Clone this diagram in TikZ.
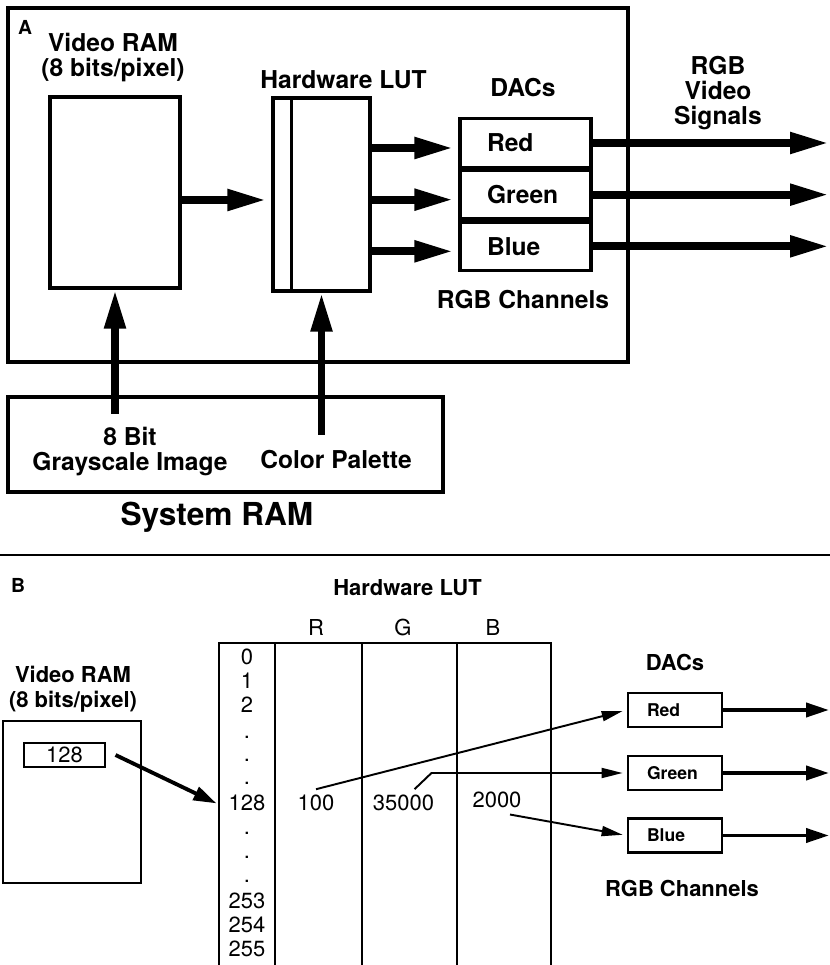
\documentclass[tikz,border=0pt]{standalone}
\usepackage{fontspec}
\setmainfont{TeX Gyre Heros}
\usepackage{tikz}
\usetikzlibrary{arrows.meta,positioning,calc}
\tikzset{
    blockbox/.style={draw, line width=1.8pt, inner sep=0pt},
    dacrow/.style={draw, line width=1.8pt, minimum width=2.62cm,
        minimum height=0.97cm, text width=1.54cm, inner xsep=0.54cm,
        align=left, font=\bfseries\fontsize{14}{14.2}\selectfont},
    dacsmall/.style={draw, line width=1.6pt, minimum width=1.88cm,
        minimum height=0.68cm, text width=1.12cm, inner xsep=0.38cm,
        align=left, font=\bfseries\fontsize{10}{12}\selectfont},
    biglabel/.style={font=\bfseries\fontsize{14}{14.2}\selectfont, align=center},
    smalllabel/.style={font=\bfseries\fontsize{12.5}{14.2}\selectfont, align=center},
    tablenum/.style={font=\fontsize{12.5}{14}\selectfont, anchor=base},
    fatarrow/.style={line width=4.5pt, -{Triangle[length=0.78cm, width=0.4cm]}},
    medarrow/.style={line width=2.2pt, -{Triangle[length=0.46cm, width=0.28cm]}},
    thinarrow/.style={line width=1.1pt, -{Triangle[length=0.42cm, width=0.2cm]}},
}
\begin{document}
\begin{tikzpicture}

    \useasboundingbox (0,0) rectangle (16.6,19.3);

    % ── Panel A: frame ─────────────────────────────────────────────────────
    \draw[line width=1.8pt] (0.16,12.06) rectangle (12.56,19.14);
    \node[font=\bfseries\fontsize{11}{12}\selectfont] (labA) at (0.5,18.76) {A};

    % ── Video RAM and LUT ──────────────────────────────────────────────────
    \node[blockbox, minimum width=2.6cm, minimum height=3.82cm] (vram) at (2.3,15.45) {};
    \node[biglabel] (vramtitle) at (2.26,18.15) {Video RAM\\(8 bits/pixel)};

    \node[blockbox, minimum width=1.94cm, minimum height=3.86cm] (lut) at (6.43,15.41) {};
    \draw[line width=1.8pt] ([xshift=0.4cm]lut.north west) -- ([xshift=0.4cm]lut.south west);
    \node[biglabel] (luttitle) at (6.87,17.7) {Hardware LUT};

    % ── DACs ───────────────────────────────────────────────────────────────
    \node[dacrow] (red) at (10.51,16.44) {Red};
    \node[dacrow, below=0pt of red] (green) {Green};
    \node[dacrow, below=0pt of green] (blue) {Blue};
    \node[biglabel] (dactitle) at (10.46,17.54) {DACs};
    \node[biglabel] (chantitle) at (10.46,13.3) {RGB Channels};
    \node[biglabel] (sigtitle) at (14.36,17.44) {RGB\\Video\\Signals};
    \coordinate (aout) at (16.58,0);

    % ── System RAM ─────────────────────────────────────────────────────────
    \node[blockbox, minimum width=8.7cm, minimum height=1.9cm] (sysram) at (4.51,10.41) {};
    \node[biglabel] (gray) at (2.6,10.26) {8 Bit\\Grayscale Image};
    \node[biglabel] (pal) at (6.72,10.1) {Color Palette};
    \node[font=\bfseries\fontsize{18}{20}\selectfont] (systitle) at (4.34,8.96) {System RAM};

    % ── Panel A arrows ─────────────────────────────────────────────────────
    \draw[fatarrow, shorten >=0.1cm] ([yshift=-0.15cm]vram.east) -- ([yshift=-0.15cm]vram.east -| lut.west);
    \foreach \c in {red,green,blue} {
        \draw[fatarrow, shorten >=0.1cm] ([yshift=-0.1cm]lut.east |- \c.west) -- ([yshift=-0.1cm]\c.west);
        \draw[fatarrow] (\c.east) -- (\c.east -| aout);
    }
    \draw[fatarrow] ([yshift=0.15cm]gray.north -| vram.south) -- (vram.south);
    \draw[fatarrow] ([yshift=0.2cm]pal.north -| lut.south) -- (lut.south);

    % ── Separator ──────────────────────────────────────────────────────────
    \draw[line width=0.8pt] (0,8.2) -- (16.6,8.2);

    % ── Panel B: titles ────────────────────────────────────────────────────
    \node[font=\bfseries\fontsize{11}{12}\selectfont] (labB) at (0.36,7.6) {B};
    \node[smalllabel] (luttitleB) at (8.15,7.54) {Hardware LUT};
    \node[font=\fontsize{12.5}{14}\selectfont] (colR) at (6.32,6.76) {R};
    \node[font=\fontsize{12.5}{14}\selectfont] (colG) at (8.06,6.76) {G};
    \node[font=\fontsize{12.5}{14}\selectfont] (colB) at (9.86,6.76) {B};

    % ── LUT table ──────────────────────────────────────────────────────────
    \draw[line width=1.1pt] (4.38,0) -- (4.38,6.44) -- (11.02,6.44) -- (11.02,0);
    \draw[line width=1.1pt] (5.5,0) -- (5.5,6.44);
    \draw[line width=0.7pt] (7.24,0) -- (7.24,6.44);
    \draw[line width=0.7pt] (9.14,0) -- (9.14,6.44);
    \foreach \t/\y in {0/6.0, 1/5.52, 2/5.04, ./4.52, ./4.06, ./3.6,
                       ./2.6, ./2.12, ./1.64, 253/1.14, 254/0.64, 255/0.16}
        \node[tablenum] at (4.94,\y) {\t};
    \node[tablenum] (idx128) at (4.94,3.08) {128};
    \node[tablenum] (v-r) at (6.32,3.08) {100};
    \node[tablenum] (v-g) at (8.07,3.08) {35000};
    \node[tablenum] (v-b) at (9.94,3.14) {2000};

    % ── Video RAM (B) ──────────────────────────────────────────────────────
    \node[draw, line width=1.1pt, minimum width=2.76cm, minimum height=3.24cm] (vramB) at (1.44,3.26) {};
    \node[smalllabel] (vramtitleB) at (1.46,5.51) {Video RAM\\(8 bits/pixel)};
    \node[draw, line width=0.6pt, minimum width=1.62cm, minimum height=0.48cm, inner sep=0pt,
        font=\fontsize{12.5}{14}\selectfont] (cell) at (1.29,4.2) {128};
    \draw[medarrow] ([xshift=0.2cm]cell.east) -- ([xshift=-0.12cm]idx128.west);

    % ── DACs (B) ───────────────────────────────────────────────────────────
    \node[dacsmall] (redB) at (13.5,5.1) {Red};
    \node[dacsmall] (greenB) at (13.5,3.84) {Green};
    \node[dacsmall] (blueB) at (13.5,2.59) {Blue};
    \node[smalllabel] (dactitleB) at (13.5,6.06) {DACs};
    \node[smalllabel] (chantitleB) at (13.64,1.54) {RGB Channels};
    \foreach \c in {redB,greenB,blueB}
        \draw[medarrow] (\c.east) -- (\c.east -| aout);

    % ── Lookups ────────────────────────────────────────────────────────────
    \draw[thinarrow, shorten >=0.08cm] (v-r.north) -- (redB.west);
    \draw[thinarrow, shorten >=0.08cm] ([xshift=0.22cm]v-g.north)
        -- ([xshift=0.56cm]v-g.north |- greenB.west) -- (greenB.west);
    \draw[thinarrow, shorten >=0.08cm] ([xshift=0.26cm]v-b.south) -- (blueB.west);

\end{tikzpicture}
\end{document}
